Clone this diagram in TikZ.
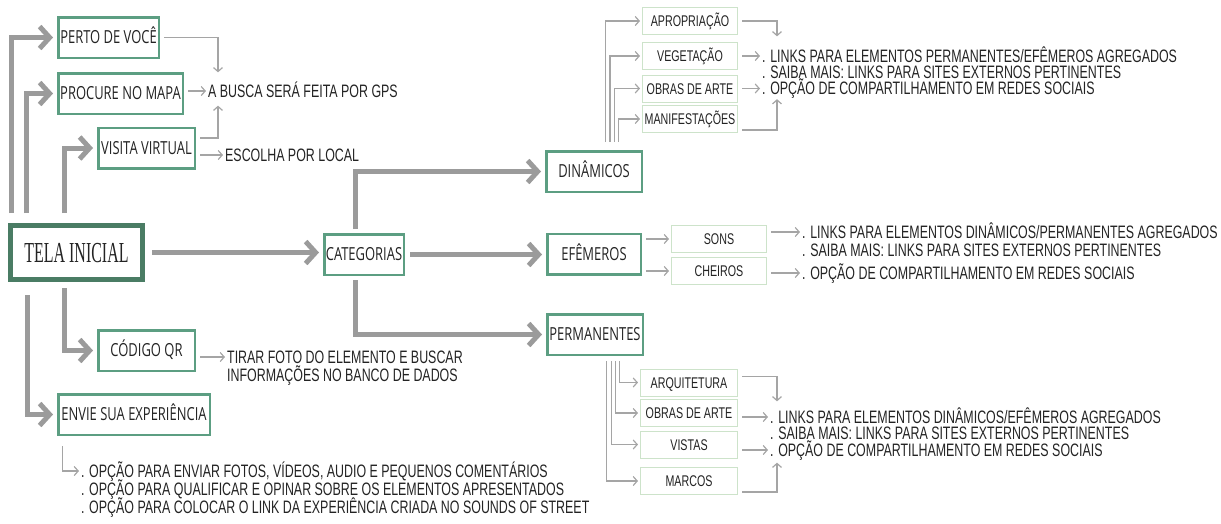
\documentclass[tikz,border=0pt]{standalone}
\usepackage{fontspec}
\setmainfont[FakeStretch=0.69]{Liberation Sans}
\newfontfamily\boxfont[FakeStretch=0.72]{Open Sans}
\newfontfamily\telafont[FakeStretch=0.55]{Liberation Serif}
\usetikzlibrary{arrows.meta}
\definecolor{boxgreen}{RGB}{92,158,130}
\definecolor{telagreen}{RGB}{74,124,100}
\definecolor{subgreen}{RGB}{205,227,202}
\definecolor{linegray}{RGB}{155,155,155}
\definecolor{thingray}{RGB}{165,165,165}
\definecolor{txtgray}{RGB}{35,35,35}

\begin{document}
\begin{tikzpicture}
  [x=1pt,y=-1pt,
   bigbox/.style={draw=boxgreen,line width=2.5pt,inner sep=0pt,minimum height=40.5pt,
     text height=12.9pt,text depth=0pt,text=txtgray,font=\boxfont\fontsize{18}{18}\selectfont},
   subbox/.style={draw=subgreen,line width=1pt,inner sep=0pt,minimum width=95pt,minimum height=27pt,
     text height=11pt,text depth=0pt,text=txtgray,font=\fontsize{15.5}{15.5}\selectfont},
   info/.style={anchor=west,inner sep=0pt,text height=12.9pt,text depth=0pt,text=txtgray,
     font=\fontsize{18}{18}\selectfont},
   bigarrow/.style={draw=linegray,line width=5pt,shorten >=4pt,-{Straight Barb[length=10pt,width=22pt]}},
   thinarrow/.style={draw=thingray,line width=1.2pt,shorten <=4pt,shorten >=2pt,-{Straight Barb[length=4pt,width=9pt]}}]

  \useasboundingbox (0,0) rectangle (1221,523);

  % main boxes
  \node[draw=telagreen,line width=5pt,minimum width=132pt,minimum height=54pt,inner sep=0pt,
    text height=19pt,text depth=0pt,text=txtgray,font=\telafont\fontsize{29}{29}\selectfont] (tela) at (76.5,252.5) {TELA INICIAL};
  \node[bigbox,minimum width=100.5pt] (perto) at (108.5,37.5) {PERTO DE VOCÊ};
  \node[bigbox,minimum width=124.5pt] (mapa) at (120.5,93.5) {PROCURE NO MAPA};
  \node[bigbox,minimum width=96.5pt] (virtual) at (146.5,148) {VISITA VIRTUAL};
  \node[bigbox,minimum width=96.5pt] (qr) at (146.5,350.5) {CÓDIGO QR};
  \node[bigbox,minimum width=151.5pt] (envie) at (134,414.5) {ENVIE SUA EXPERIÊNCIA};
  \node[bigbox,minimum width=79.5pt] (categorias) at (364,254.5) {CATEGORIAS};
  \node[bigbox,minimum width=95.5pt] (dinamicos) at (594,171.5) {DINÂMICOS};
  \node[bigbox,minimum width=93.5pt] (efemeros) at (594,254) {EFÊMEROS};
  \node[bigbox,minimum width=95.5pt] (permanentes) at (595,334.5) {PERMANENTES};

  % sub boxes
  \node[subbox] (apropriacao) at (690,21) {APROPRIAÇÃO};
  \node[subbox] (vegetacao) at (690,56) {VEGETAÇÃO};
  \node[subbox] (artedin) at (690,88.5) {OBRAS DE ARTE};
  \node[subbox] (manifestacoes) at (690,119) {MANIFESTAÇÕES};
  \node[subbox] (sons) at (719,239) {SONS};
  \node[subbox] (cheiros) at (719,271) {CHEIROS};
  \node[subbox,minimum width=97pt] (arquitetura) at (689,382.5) {ARQUITETURA};
  \node[subbox,minimum width=97pt] (arteperm) at (689,413) {OBRAS DE ARTE};
  \node[subbox,minimum width=97pt] (vistas) at (689,444.5) {VISTAS};
  \node[subbox,minimum width=97pt] (marcos) at (689,481) {MARCOS};

  % texts
  \node[info] (gps) at (208,91) {A BUSCA SERÁ FEITA POR GPS};
  \node[info] (local) at (225,155) {ESCOLHA POR LOCAL};
  \node[info] (qr1) at (227,357) {TIRAR FOTO DO ELEMENTO E BUSCAR};
  \node[info] (qr2) at (227,375) {INFORMAÇÕES NO BANCO DE DADOS};
  \node[info] (env1) at (81,471) {. OPÇÃO PARA ENVIAR FOTOS, VÍDEOS, AUDIO E PEQUENOS COMENTÁRIOS};
  \node[info] (env2) at (81,489) {. OPÇÃO PARA QUALIFICAR E OPINAR SOBRE OS ELEMENTOS APRESENTADOS};
  \node[info] (env3) at (81,507) {. OPÇÃO PARA COLOCAR O LINK DA EXPERIÊNCIA CRIADA NO SOUNDS OF STREET};
  \node[info] (din1) at (762,56) {. LINKS PARA ELEMENTOS PERMANENTES/EFÊMEROS AGREGADOS};
  \node[info] (din2) at (762,72) {. SAIBA MAIS: LINKS PARA SITES EXTERNOS PERTINENTES};
  \node[info] (din3) at (762,88.5) {. OPÇÃO DE COMPARTILHAMENTO EM REDES SOCIAIS};
  \node[info] (efe1) at (802,232) {. LINKS PARA ELEMENTOS DINÂMICOS/PERMANENTES AGREGADOS};
  \node[info] (efe2) at (802,250) {. SAIBA MAIS: LINKS PARA SITES EXTERNOS PERTINENTES};
  \node[info] (efe3) at (802,273) {. OPÇÃO DE COMPARTILHAMENTO EM REDES SOCIAIS};
  \node[info] (perm1) at (770,417) {. LINKS PARA ELEMENTOS DINÂMICOS/EFÊMEROS AGREGADOS};
  \node[info] (perm2) at (770,433) {. SAIBA MAIS: LINKS PARA SITES EXTERNOS PERTINENTES};
  \node[info] (perm3) at (770,450) {. OPÇÃO DE COMPARTILHAMENTO EM REDES SOCIAIS};

  % thick connectors
  \foreach \dest/\dx in {perto/3.5, mapa/18.5, virtual/56.5}
    \draw[bigarrow,shorten <=10pt] ([xshift=\dx pt]tela.north west) |- (\dest.west);
  \draw[bigarrow,shorten <=6pt] ([xshift=56.5pt]tela.south west) |- (qr.west);
  \draw[bigarrow,shorten <=13pt] ([xshift=19.5pt]tela.south west) |- (envie.west);
  \draw[bigarrow,shorten <=7pt] (tela.east) -- (tela.east -| categorias.west);
  \draw[bigarrow,shorten <=4pt] ([xshift=-9pt]categorias.north) |- (dinamicos.west);
  \draw[bigarrow,shorten <=5pt] (categorias.east) -- (categorias.east -| efemeros.west);
  \draw[bigarrow,shorten <=4pt] ([xshift=-9pt]categorias.south) |- (permanentes.west);

  % thin connectors, left
  \draw[thinarrow,shorten >=12pt] (perto.east) -| ([xshift=10pt]gps.north west);
  \draw[thinarrow] (gps.west -| mapa.east) -- (gps.west);
  \draw[thinarrow,shorten >=8pt] ([yshift=10pt]virtual.east) -| ([xshift=10pt]gps.south west);
  \draw[thinarrow] (local.west -| virtual.east) -- (local.west);
  \draw[thinarrow] (qr1.west -| qr.east) -- (qr1.west);
  \draw[thinarrow,shorten <=10pt] ([xshift=5.5pt]envie.south west) |- (env1.west);

  % thin connectors, dinamicos
  \foreach \sub/\dx in {apropriacao/60.5, vegetacao/65, artedin/69.5, manifestacoes/73.5}
    \draw[thinarrow,shorten <=8pt] ([xshift=\dx pt]dinamicos.north west) |- (\sub.west);
  \draw[thinarrow,shorten >=13pt] (apropriacao.east) -| ([xshift=15pt]din1.north west);
  \draw[thinarrow] (din1.west -| vegetacao.east) -- (din1.west);
  \draw[thinarrow] (din3.west -| artedin.east) -- (din3.west);
  \draw[thinarrow,shorten >=4pt] ([yshift=-11pt]manifestacoes.east) -| ([xshift=15pt]din3.south west);

  % thin connectors, efemeros
  \foreach \sub in {sons, cheiros}
    \draw[thinarrow] (\sub.west -| efemeros.east) -- (\sub.west);
  \draw[thinarrow] (efe1.west -| sons.east) -- (efe1.west);
  \draw[thinarrow] (efe3.west -| cheiros.east) -- (efe3.west);

  % thin connectors, permanentes
  \foreach \sub/\dx in {marcos/60.5, vistas/65.5, arteperm/69.5, arquitetura/73.5}
    \draw[thinarrow,shorten <=5pt] ([xshift=\dx pt]permanentes.south west) |- (\sub.west);
  \draw[thinarrow,shorten >=9pt] ([yshift=6pt]arquitetura.east) -| ([xshift=7pt]perm1.north west);
  \draw[thinarrow] (perm1.west -| arteperm.east) -- (perm1.west);
  \draw[thinarrow] (perm3.west -| vistas.east) -- (perm3.west);
  \draw[thinarrow,shorten >=6pt] ([yshift=-11pt]marcos.east) -| ([xshift=7pt]perm3.south west);

\end{tikzpicture}
\end{document}
